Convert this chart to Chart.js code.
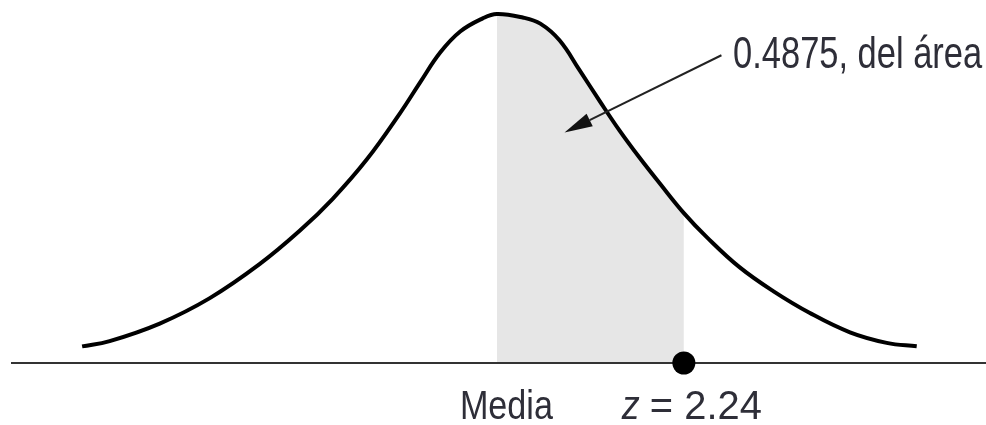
<!DOCTYPE html>
<html>
<head>
<meta charset="utf-8">
<script src="https://cdn.jsdelivr.net/npm/chart.js@4.4.1/dist/chart.umd.min.js"></script>
<style>
  html, body { margin: 0; padding: 0; background: #fff; }
  canvas { display: block; }
</style>
</head>
<body>
<canvas id="normalChart" width="986" height="425"></canvas>
<script>
// Curve: z position and height of the curve
const zPoints = [-4.97, -4.64, -4.04, -3.44, -2.84, -2.36, -1.97, -1.56, -1.16, -0.92, -0.68, -0.44, -0.17, 0,
                 0.31, 0.52, 0.75, 0.99, 1.23, 1.47, 1.71, 1.95, 2.24, 2.52, 2.91, 3.31, 3.75, 4.23, 4.67, 5.03];
const heights = [0.019, 0.025, 0.045, 0.074, 0.113, 0.151, 0.187, 0.232, 0.285, 0.320, 0.354, 0.378, 0.393, 0.398,
                 0.394, 0.387, 0.368, 0.334, 0.299, 0.265, 0.234, 0.205, 0.171, 0.143, 0.109, 0.082, 0.057, 0.035, 0.023, 0.019];

// Shaded region: from the mean to z
const zMean = 0;
const zCut = 2.24;
const areaLabel = '0.4875, del área';
const meanLabel = 'Media';
const cutLabel = ['z', '= 2.24'];

const curve = zPoints.map((z, i) => ({ x: z, y: heights[i] }));
const shaded = curve.filter(p => p.x >= zMean && p.x <= zCut);

const textColor = '#2e2e38';
const fontFamily = '"Liberation Sans", Arial, sans-serif';

// draw a string squeezed to a given width (condensed look)
function fitText(ctx, text, left, baseline, width, font) {
    ctx.save();
    ctx.font = font;
    const w = ctx.measureText(text).width;
    ctx.translate(left, baseline);
    ctx.scale(width / w, 1);
    ctx.textBaseline = 'alphabetic';
    ctx.textAlign = 'left';
    ctx.fillStyle = textColor;
    ctx.fillText(text, 0, 0);
    ctx.restore();
}

const labelsPlugin = {
    id: 'labels',
    afterDraw(chart) {
        const { ctx, scales: { x, y } } = chart;
        const base = y.getPixelForValue(0);

        // labels under the axis
        fitText(ctx, meanLabel, x.getPixelForValue(zMean) - 37, base + 56, 93, '41px ' + fontFamily);
        fitText(ctx, cutLabel[0], x.getPixelForValue(zCut) - 62, base + 56, 18, 'italic 41px ' + fontFamily);
        fitText(ctx, cutLabel[1], x.getPixelForValue(zCut) - 34, base + 56, 112, '41px ' + fontFamily);

        // arrow pointing into the shaded area
        const tx = x.getPixelForValue(2.69), ty = y.getPixelForValue(0.351);
        const hx = x.getPixelForValue(0.81), hy = y.getPixelForValue(0.263);
        const ang = Math.atan2(hy - ty, hx - tx);
        const headLen = 28, headW = 7;
        const bx = hx - headLen * Math.cos(ang), by = hy - headLen * Math.sin(ang);
        ctx.save();
        ctx.strokeStyle = '#222';
        ctx.fillStyle = '#111';
        ctx.lineWidth = 2;
        ctx.beginPath();
        ctx.moveTo(tx, ty);
        ctx.lineTo(bx, by);
        ctx.stroke();
        ctx.beginPath();
        ctx.moveTo(hx, hy);
        ctx.lineTo(bx + headW * Math.sin(ang), by - headW * Math.cos(ang));
        ctx.lineTo(bx - headW * Math.sin(ang), by + headW * Math.cos(ang));
        ctx.closePath();
        ctx.fill();
        ctx.restore();

        fitText(ctx, areaLabel, x.getPixelForValue(2.83), y.getPixelForValue(0.337), 249, '44px ' + fontFamily);
    }
};

new Chart(document.getElementById('normalChart'), {
    type: 'line',
    data: {
        datasets: [
            {
                data: curve,
                borderColor: '#000',
                borderWidth: 4,
                borderCapStyle: 'butt',
                tension: 0.4,
                pointRadius: 0,
                fill: false,
                order: 2
            },
            {
                data: shaded,
                borderColor: 'rgba(0,0,0,0)',
                borderWidth: 0,
                backgroundColor: '#e6e6e6',
                tension: 0.4,
                pointRadius: 0,
                fill: 'origin',
                order: 3
            },
            {
                type: 'scatter',
                data: [{ x: zCut, y: 0 }],
                backgroundColor: '#000',
                borderWidth: 0,
                pointRadius: 11.5,
                clip: false,
                order: 1
            }
        ]
    },
    options: {
        responsive: false,
        animation: false,
        devicePixelRatio: 1,
        layout: { autoPadding: false, padding: { left: 12, right: 0, top: 0, bottom: 62 } },
        plugins: {
            legend: { display: false },
            tooltip: { enabled: false },
            filler: { drawTime: 'beforeDraw' }
        },
        scales: {
            x: {
                type: 'linear',
                min: -5.81,
                max: 5.86,
                grid: { display: false, drawTicks: false },
                ticks: { display: false },
                border: { display: true, color: '#333', width: 2 }
            },
            y: {
                display: false,
                min: 0,
                max: 0.414
            }
        }
    },
    plugins: [labelsPlugin]
});
</script>
</body>
</html>
